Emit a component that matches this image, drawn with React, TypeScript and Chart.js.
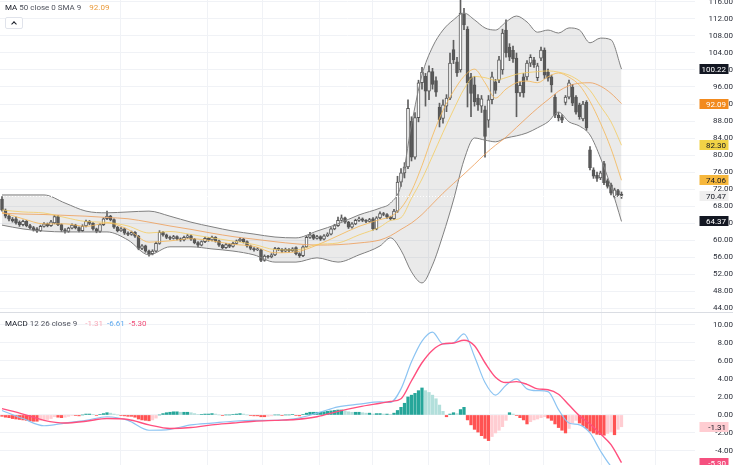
import React, { useEffect, useRef } from "react";
import { Chart, registerables } from "chart.js";

Chart.register(...registerables);

// ---------- price candles (one per bar) ----------
const opens = [
  69.6, 67.0, 65.6, 64.9, 65.0, 64.2, 63.6, 64.4, 63.4, 62.9,
  62.6, 62.2, 63.2, 63.8, 63.4, 64.0, 65.5, 63.6, 62.4, 62.0,
  62.8, 63.5, 62.9, 62.2, 63.3, 64.4, 63.9, 62.6, 62.0, 63.6,
  65.0, 65.6, 64.8, 63.0, 62.2, 62.6, 61.6, 61.3, 61.8, 60.9,
  58.0, 58.6, 57.4, 56.8, 57.4, 59.2, 61.8, 61.2, 60.6, 60.4,
  60.8, 60.3, 60.0, 60.6, 61.0, 60.2, 59.4, 58.8, 59.6, 60.4,
  60.0, 60.6, 59.8, 58.8, 58.2, 58.9, 58.5, 59.2, 59.8, 60.2,
  59.6, 58.6, 58.0, 57.7, 57.6, 55.2, 56.2, 56.0, 56.5, 58.0,
  57.8, 57.4, 57.8, 57.5, 58.2, 56.8, 56.3, 58.4, 60.6, 61.2,
  60.4, 60.8, 60.2, 61.0, 61.4, 62.6, 63.4, 64.6, 65.2, 64.2,
  63.0, 63.8, 64.6, 65.0, 64.6, 64.4, 65.0, 62.6, 65.2, 66.2,
  66.0, 65.4, 65.0, 66.8, 73.6, 75.8, 77.2, 88.0, 79.5, 88.8,
  97.0, 98.5, 95.0, 99.6, 97.5, 91.3, 88.6, 91.5, 93.4, 104.8,
  101.9, 100.0, 113.2, 109.6, 98.4, 96.5, 93.4, 91.5, 90.6, 88.2,
  93.0, 97.2, 97.6, 100.0, 109.4, 105.4, 104.6, 102.8, 94.6, 98.4,
  98.4, 101.6, 102.4, 98.2, 102.8, 104.7, 99.5, 98.4, 93.6, 89.4,
  89.0, 92.4, 93.6, 96.0, 93.6, 91.8, 88.5, 92.4, 81.2, 76.5,
  75.2, 74.6, 78.0, 74.0, 73.0, 70.2, 71.6, 70.8,
];
const closes = [
  67.0, 65.6, 64.9, 64.5, 64.0, 63.6, 64.4, 63.4, 62.9, 62.4,
  62.1, 63.2, 63.8, 63.4, 64.3, 65.5, 63.6, 62.4, 62.0, 62.8,
  63.5, 62.9, 62.2, 63.3, 64.4, 63.9, 62.6, 62.0, 63.6, 65.0,
  65.6, 64.8, 63.0, 62.2, 62.6, 61.6, 61.3, 61.8, 60.9, 58.0,
  58.6, 57.4, 56.8, 57.4, 59.2, 61.8, 61.2, 60.6, 60.4, 60.8,
  60.3, 60.0, 60.6, 61.0, 60.2, 59.4, 58.8, 59.6, 60.4, 60.0,
  60.6, 59.8, 58.8, 58.2, 58.9, 58.5, 59.2, 59.8, 60.2, 59.6,
  58.6, 58.0, 57.7, 57.9, 55.2, 56.2, 56.0, 56.5, 58.0, 57.8,
  57.4, 57.8, 57.5, 57.9, 56.8, 56.3, 58.4, 60.6, 61.2, 60.4,
  60.8, 60.2, 61.0, 61.4, 62.6, 63.4, 64.6, 65.2, 64.2, 63.0,
  63.8, 64.6, 65.0, 64.6, 64.4, 64.8, 62.6, 65.2, 66.2, 66.0,
  65.4, 65.0, 66.8, 73.6, 75.8, 77.2, 91.0, 79.5, 88.8, 97.0,
  99.5, 95.0, 99.6, 96.6, 94.8, 88.3, 91.8, 93.4, 101.6, 102.4,
  99.3, 113.4, 110.6, 97.0, 94.5, 92.5, 91.8, 93.2, 84.4, 93.0,
  98.4, 95.2, 102.4, 108.7, 104.0, 103.0, 102.6, 94.6, 96.4, 94.6,
  101.6, 103.0, 101.2, 101.0, 104.7, 98.8, 98.1, 96.5, 89.4, 88.7,
  88.2, 93.6, 97.0, 92.2, 90.1, 89.0, 92.0, 86.4, 77.0, 75.0,
  74.5, 75.8, 73.5, 72.6, 71.0, 71.8, 70.6, 70.47,
];
const highs = [
  70.2, 67.3, 66.0, 65.3, 65.4, 64.5, 64.7, 64.6, 63.7, 63.2,
  62.9, 63.5, 64.1, 64.0, 64.6, 65.8, 65.8, 63.8, 62.7, 63.0,
  63.8, 63.7, 63.1, 63.6, 64.7, 64.6, 64.1, 62.8, 63.8, 65.2,
  66.8, 65.8, 65.0, 63.2, 62.9, 62.8, 61.9, 62.1, 62.0, 61.1,
  58.9, 58.8, 57.6, 57.7, 59.5, 62.2, 62.0, 61.4, 60.9, 61.1,
  61.0, 60.5, 60.9, 61.3, 61.2, 60.4, 59.6, 59.8, 60.7, 60.6,
  60.9, 60.8, 60.0, 59.0, 59.2, 59.1, 59.5, 60.0, 60.5, 60.4,
  59.8, 58.8, 58.2, 58.2, 57.8, 56.5, 56.4, 56.8, 58.3, 58.2,
  58.0, 58.1, 58.0, 58.2, 58.4, 57.0, 58.6, 61.0, 61.8, 61.4,
  61.1, 61.0, 61.3, 61.7, 62.9, 63.7, 65.4, 65.9, 65.4, 64.4,
  64.1, 64.9, 65.4, 65.2, 64.8, 65.1, 65.3, 65.5, 66.6, 66.5,
  66.2, 65.6, 67.2, 75.0, 76.8, 78.2, 93.0, 89.0, 90.0, 97.6,
  100.6, 99.2, 101.0, 100.4, 98.4, 92.2, 93.0, 94.2, 104.0, 107.0,
  103.0, 116.5, 114.5, 110.2, 99.2, 98.5, 94.2, 94.0, 91.5, 94.0,
  99.5, 97.8, 103.2, 109.6, 111.8, 106.2, 105.6, 104.0, 97.2, 99.2,
  102.2, 103.6, 103.0, 101.6, 105.4, 105.2, 100.2, 98.8, 94.2, 90.0,
  89.5, 94.0, 97.6, 96.6, 94.0, 92.2, 92.6, 92.8, 82.0, 77.0,
  76.0, 76.2, 78.5, 74.4, 73.4, 72.2, 71.9, 71.3,
];
const lows = [
  66.8, 65.2, 64.5, 64.2, 63.7, 63.2, 63.3, 63.1, 62.6, 62.1,
  61.8, 62.0, 63.0, 63.1, 63.2, 63.8, 63.4, 62.0, 61.6, 61.8,
  62.6, 62.6, 61.9, 62.0, 63.1, 63.6, 62.3, 61.7, 61.8, 63.4,
  64.8, 64.5, 62.7, 61.9, 62.0, 61.3, 61.0, 61.1, 60.6, 57.7,
  57.7, 57.1, 56.2, 56.5, 57.2, 59.0, 60.9, 60.3, 60.1, 60.2,
  60.0, 59.7, 59.8, 60.4, 59.9, 59.1, 58.4, 58.6, 59.4, 59.7,
  59.8, 59.5, 58.5, 57.9, 58.0, 58.2, 58.3, 59.0, 59.6, 59.3,
  58.3, 57.7, 57.4, 57.5, 54.9, 55.0, 55.7, 55.8, 56.3, 57.5,
  57.1, 57.2, 57.2, 57.3, 56.5, 55.9, 56.1, 58.2, 60.4, 60.1,
  60.2, 59.9, 60.0, 60.8, 61.2, 62.4, 63.2, 64.4, 63.9, 62.7,
  62.8, 63.6, 64.4, 64.3, 64.1, 64.2, 62.3, 62.4, 65.0, 65.7,
  65.1, 64.7, 64.8, 66.5, 72.6, 74.6, 76.8, 78.6, 79.0, 87.8,
  95.5, 91.5, 93.0, 95.5, 93.8, 86.6, 87.5, 90.2, 93.0, 101.5,
  98.5, 99.5, 109.5, 91.3, 89.0, 91.5, 90.5, 90.0, 79.5, 86.5,
  92.0, 94.5, 97.0, 99.0, 103.0, 102.2, 101.8, 89.0, 93.8, 93.6,
  97.6, 100.8, 100.6, 97.5, 102.2, 98.0, 97.4, 94.8, 88.8, 88.0,
  87.6, 91.8, 93.2, 91.6, 89.6, 88.4, 88.0, 85.8, 76.5, 74.5,
  73.8, 74.2, 73.0, 72.2, 70.6, 69.9, 70.2, 69.8,
];

// ---------- indicator lines, read at these bar indices ----------
const sampleIdx = [
  0, 6, 12, 18, 24, 30, 36, 42, 48, 54, 60, 66, 72, 78, 84, 90, 96, 102, 108,
  111, 114, 117, 120, 123, 126, 129, 132, 135, 138, 141, 144, 147, 150, 153, 156,
  159, 162, 165, 168, 171, 174, 177,
];
const bbUpper = [
  70.6, 70.6, 70.6, 68.7, 66.8, 66.4, 66.6, 66.8, 65.6, 64.2, 63.1, 62.1, 61.4, 60.7, 60.5, 62.1, 63.8, 65.9, 67.5,
  68.7, 72.9, 87.1, 98.8, 105.4, 109.4, 111.8, 113.4, 111.8, 109.9, 109.4, 111.3, 112.7, 111.3, 108.9, 109.4,
  108.7, 109.9, 109.4, 106.4, 107.5, 107.1, 100.22,
];
const bbLower = [
  63.5, 62.6, 62.1, 61.9, 61.9, 61.9, 60.0, 56.5, 58.4, 58.4, 57.9, 57.4, 56.5, 54.8, 54.8, 55.8, 54.8, 56.5, 58.6,
  60.5, 57.6, 52.5, 49.9, 54.1, 61.2, 69.4, 78.8, 84.0, 83.5, 83.1, 84.0, 84.5, 85.2, 86.4, 87.8,
  90.1, 87.8, 86.8, 84.7, 79.3, 72.5, 64.37,
];
const bbBasis = [
  67.05, 66.6, 66.35, 65.3, 64.35, 64.15, 63.3, 61.65, 62.0, 61.3, 60.5, 59.75, 58.95, 57.75, 57.65, 58.95, 59.3, 61.2, 63.05,
  64.6, 65.25, 69.8, 74.35, 79.75, 85.3, 90.6, 95.5, 98.5, 98.2, 97.6, 98.2, 99.0, 99.4, 99.6, 99.8,
  99.5, 98.8, 97.4, 95.2, 91.5, 87.8, 82.3,
];
const fastMA = [
  66.5, 65.0, 63.8, 63.8, 63.2, 64.0, 62.5, 59.5, 59.8, 60.3, 59.8, 59.0, 58.5, 57.0, 57.2, 58.8, 61.0, 63.2, 64.8,
  65.5, 67.5, 71.5, 77.5, 84.5, 90.5, 95.0, 98.5, 100.2, 97.0, 93.4, 95.5, 97.0, 97.4, 97.0, 98.4,
  99.3, 98.3, 96.4, 92.6, 87.5, 81.5, 74.06,
];
const ma50 = [
  66.3, 66.1, 66.0, 65.8, 65.6, 65.3, 65.0, 64.2, 63.3, 62.5, 61.6, 60.8, 60.2, 59.6, 59.1, 58.8, 58.9, 59.3, 60.0,
  61.0, 62.5, 64.0, 66.0, 68.5, 71.0, 73.3, 75.5, 77.8, 80.2, 82.3, 84.2, 86.5, 88.8, 91.0, 93.0,
  95.0, 96.3, 96.9, 97.0, 96.2, 94.5, 92.09,
];
const macdLine = [
  0.5, -0.4, -1.2, -0.9, -0.6, -0.2, -0.6, -1.7, -1.6, -1.1, -0.9, -0.7, -0.6, -0.6, -0.4, 0.2, 0.9, 1.2, 1.45,
  1.4, 2.9, 5.9, 8.2, 9.2, 7.9, 8.0, 9.0, 6.5, 3.6, 2.2, 3.3, 4.0, 2.9, 2.7, 2.6,
  0.6, -0.9, -1.1, -2.0, -4.0, -5.7, -6.61,
];
const signalLine = [
  0.7, 0.1, -0.6, -0.9, -0.7, -0.4, -0.5, -1.1, -1.5, -1.4, -1.1, -0.9, -0.7, -0.6, -0.5, -0.2, 0.4, 0.9, 1.3,
  1.5, 1.8, 3.8, 5.8, 7.2, 7.9, 8.0, 8.3, 7.7, 5.8, 4.2, 3.6, 3.7, 3.4, 2.9, 2.8,
  2.3, 1.1, -0.1, -1.0, -2.1, -3.3, -5.3,
];
const histogram = [
  -0.15, -0.25, -0.3, -0.4, -0.45, -0.5, -0.55, -0.6, -0.65, -0.7,
  -0.7, -0.6, -0.55, -0.5, -0.4, -0.2, -0.25, -0.3, -0.25, -0.15,
  -0.05, -0.05, -0.1, 0.0, 0.1, 0.1, 0.05, -0.05, 0.05, 0.15,
  0.25, 0.2, 0.1, 0.0, -0.05, -0.1, -0.15, -0.15, -0.25, -0.45,
  -0.55, -0.6, -0.65, -0.55, -0.35, 0.0, 0.15, 0.25, 0.3, 0.35,
  0.35, 0.3, 0.3, 0.3, 0.25, 0.15, 0.05, 0.05, 0.1, 0.1,
  0.15, 0.1, 0.0, -0.05, 0.0, 0.0, 0.05, 0.1, 0.15, 0.1,
  0.0, -0.05, -0.1, -0.1, -0.2, -0.2, -0.15, -0.1, 0.0, 0.0,
  -0.05, 0.0, 0.0, 0.05, -0.05, -0.1, 0.05, 0.2, 0.3, 0.3,
  0.3, 0.3, 0.35, 0.4, 0.45, 0.5, 0.55, 0.55, 0.45, 0.35,
  0.3, 0.3, 0.3, 0.25, 0.2, 0.2, 0.1, 0.15, 0.15, 0.1,
  0.1, 0.05, 0.2, 0.5, 0.85, 1.3, 2.0, 2.2, 2.4, 2.7,
  3.0, 2.7, 2.5, 2.2, 1.8, 1.1, 0.4, -0.2, 0.1, 0.25,
  0.15, 0.6, 0.85, -0.55, -1.1, -1.6, -1.9, -2.3, -2.6, -2.85,
  -2.4, -2.0, -1.7, -1.3, -0.6, 0.25, 0.1, -0.05, -0.3, -0.55,
  -1.0, -0.75, -0.55, -0.45, -0.3, -0.2, -0.35, -0.6, -1.0, -1.4,
  -1.7, -2.0, -1.5, -0.9, -0.6, -0.9, -1.2, -1.5, -1.8, -2.0,
  -2.15, -2.2, -2.25, -2.05, -1.85, -2.2, -1.6, -1.31,
];

// ---------- axes ----------
const priceTicks = [44, 48, 52, 56, 60, 64, 68, 72, 76, 80, 84, 88, 92, 96, 100, 104, 108, 112, 116];
const macdTicks = [-4, -2, 0, 2, 4, 6, 8, 10];
const timeGrid = [16.6, 51.4, 66, 82.9, 98.6, 113.1, 130.9, 147.4, 162.3, 180, 193.7];

const FONT = "Roboto, 'Liberation Sans', Arial, sans-serif";
const FS = 8;
const X_MIN = -0.5714;
const X_MAX = 198.0;
const GRID = "#F0F2F6";
const last = (a: number[]) => a[a.length - 1];
const pts = (arr: number[]) => sampleIdx.map((x, k) => ({ x, y: arr[k] }));

const overlayPlugin = {
  id: "overlay",
  afterDatasetsDraw(chart: any, _a: any, opts: any) {
    if (opts.priceLine == null) return;
    const { ctx, chartArea } = chart;
    const py = Math.round(chart.scales.y.getPixelForValue(opts.priceLine)) + 0.5;
    ctx.save();
    ctx.strokeStyle = "rgba(255,255,255,0.95)";
    ctx.setLineDash([1, 2]);
    ctx.lineWidth = 1;
    ctx.beginPath();
    ctx.moveTo(chartArea.left, py);
    ctx.lineTo(chartArea.right, py);
    ctx.stroke();
    ctx.restore();
  },
  afterDraw(chart: any, _a: any, opts: any) {
    const { ctx } = chart;
    const ys = chart.scales.y;
    ctx.save();
    if (opts.topLine) {
      ctx.strokeStyle = "#DADDE3";
      ctx.lineWidth = 1;
      ctx.beginPath();
      ctx.moveTo(0, 0.5);
      ctx.lineTo(chart.width, 0.5);
      ctx.stroke();
    }
    for (const l of opts.labels || []) {
      const py = Math.round(ys.getPixelForValue(l.value));
      ctx.fillStyle = l.bg;
      ctx.fillRect(699.5, py - 5, 29, 10);
      ctx.fillStyle = l.fg;
      ctx.font = `${FS}px ${FONT}`;
      ctx.textAlign = "right";
      ctx.textBaseline = "middle";
      ctx.fillText(l.value.toFixed(2), 726, py + 0.5);
    }
    ctx.restore();
  },
};

function xScale() {
  return {
    type: "linear",
    min: X_MIN,
    max: X_MAX,
    offset: false,
    afterBuildTicks: (s: any) => {
      s.ticks = timeGrid.map((v) => ({ value: v }));
    },
    afterFit: (s: any) => {
      s.height = 0;
    },
    grid: { color: GRID, drawTicks: false },
    border: { display: false },
    ticks: { display: false },
  };
}

function yScale(min: number, max: number, ticks: number[]) {
  return {
    type: "linear",
    position: "right",
    min,
    max,
    afterBuildTicks: (s: any) => {
      s.ticks = ticks.map((v) => ({ value: v }));
    },
    afterFit: (s: any) => {
      s.width = 38;
      s.paddingTop = 0;
      s.paddingBottom = 0;
    },
    grid: { color: GRID, drawTicks: false },
    border: { display: false },
    ticks: {
      padding: 6,
      crossAlign: "far",
      autoSkip: false,
      color: "#2A2E39",
      font: { size: FS, family: FONT },
      callback: (v: any) => Number(v).toFixed(2),
    },
  };
}

export default function App() {
  const mainRef = useRef<HTMLCanvasElement>(null);
  const macdRef = useRef<HTMLCanvasElement>(null);

  useEffect(() => {
    const bodyColors = opens.map((o, i) => (closes[i] >= o ? "#FFFFFF" : "#5A5A5A"));
    const lineCommon = { pointRadius: 0, cubicInterpolationMode: "monotone", fill: false };

    const main = new Chart(mainRef.current as HTMLCanvasElement, {
      type: "bar",
      data: {
        datasets: [
          { ...lineCommon, type: "line", data: pts(bbLower), borderColor: "#808080", borderWidth: 1, order: 2 },
          {
            ...lineCommon,
            type: "line",
            data: pts(bbUpper),
            borderColor: "#808080",
            borderWidth: 1,
            fill: "-1",
            backgroundColor: "rgba(128,128,128,0.17)",
            order: 2,
          },
          { ...lineCommon, type: "line", data: pts(bbBasis), borderColor: "rgba(244,204,96,0.8)", borderWidth: 1, order: 1 },
          { ...lineCommon, type: "line", data: pts(fastMA), borderColor: "rgba(245,182,84,0.8)", borderWidth: 1, order: 1 },
          { ...lineCommon, type: "line", data: pts(ma50), borderColor: "rgba(238,156,86,0.8)", borderWidth: 1, order: 1 },
          {
            type: "bar",
            data: opens.map((_, i) => ({ x: i, y: [lows[i], highs[i]] })),
            backgroundColor: "#5E5E5E",
            barThickness: 1,
            grouped: false,
            order: 5,
          },
          {
            type: "bar",
            data: opens.map((o, i) => ({ x: i, y: [o, closes[i]] })),
            backgroundColor: bodyColors,
            borderColor: "#555555",
            borderWidth: 1,
            borderSkipped: false,
            barThickness: 3,
            minBarLength: 1,
            grouped: false,
            order: 4,
          },
        ],
      } as any,
      options: {
        responsive: false,
        maintainAspectRatio: false,
        animation: false,
        events: [],
        layout: { padding: 0 },
        scales: { x: xScale(), y: yScale(43.06, 116.47, priceTicks) } as any,
        plugins: {
          legend: { display: false },
          tooltip: { enabled: false },
          filler: { drawTime: "beforeDatasetsDraw" },
          overlay: {
            priceLine: last(closes),
            labels: [
              { value: last(bbUpper), bg: "#131722", fg: "#FFFFFF" },
              { value: last(ma50), bg: "#F28A1E", fg: "#FFFFFF" },
              { value: last(bbBasis), bg: "#F1D346", fg: "#131722" },
              { value: last(fastMA), bg: "#F6B73C", fg: "#131722" },
              { value: last(closes), bg: "#EFEFEF", fg: "#131722" },
              { value: last(bbLower), bg: "#131722", fg: "#FFFFFF" },
            ],
          },
        } as any,
      },
      plugins: [overlayPlugin],
    });

    const histColors = histogram.map((v, i) => {
      const prev = i > 0 ? histogram[i - 1] : 0;
      if (v >= 0) return v >= prev ? "#26A69A" : "#B2DFDB";
      return v <= prev ? "#FF5252" : "#FFCDD2";
    });

    const macd = new Chart(macdRef.current as HTMLCanvasElement, {
      type: "bar",
      data: {
        datasets: [
          {
            type: "bar",
            data: histogram.map((v, i) => ({ x: i, y: v })),
            backgroundColor: histColors,
            barThickness: 2.6,
            grouped: false,
            order: 3,
          },
          { ...lineCommon, type: "line", data: pts(macdLine), borderColor: "#8CC4F2", borderWidth: 1.2, order: 2 },
          { ...lineCommon, type: "line", data: pts(signalLine), borderColor: "#FF4F7E", borderWidth: 1.4, order: 1 },
        ],
      } as any,
      options: {
        responsive: false,
        maintainAspectRatio: false,
        animation: false,
        events: [],
        layout: { padding: 0 },
        scales: { x: xScale(), y: yScale(-5.56, 11.44, macdTicks) } as any,
        plugins: {
          legend: { display: false },
          tooltip: { enabled: false },
          overlay: {
            topLine: true,
            labels: [
              { value: last(macdLine), bg: "#64B5F6", fg: "#FFFFFF" },
              { value: last(histogram), bg: "#FFCDD2", fg: "#131722" },
              { value: last(signalLine), bg: "#F5507F", fg: "#FFFFFF" },
            ],
          },
        } as any,
      },
      plugins: [overlayPlugin],
    });

    return () => {
      main.destroy();
      macd.destroy();
    };
  }, []);

  const txt: React.CSSProperties = {
    position: "absolute",
    left: 5,
    fontFamily: FONT,
    fontSize: FS,
    lineHeight: "10px",
    whiteSpace: "nowrap",
    color: "#50535E",
  };

  return (
    <div style={{ position: "fixed", left: 0, top: 0, width: 733, height: 465, background: "#FFFFFF", overflow: "hidden" }}>
      <canvas ref={mainRef} width={733} height={312} style={{ position: "absolute", left: 0, top: 0, display: "block" }} />
      <canvas ref={macdRef} width={733} height={153} style={{ position: "absolute", left: 0, top: 312, display: "block" }} />
      <div style={{ ...txt, top: 2.5 }}>
        <span style={{ color: "#131722" }}>MA</span> 50 close 0 SMA 9
        <span style={{ color: "#EA9A3A", marginLeft: 8 }}>{last(ma50).toFixed(2)}</span>
      </div>
      <div
        style={{
          position: "absolute",
          left: 5,
          top: 17,
          width: 16,
          height: 10,
          border: "1px solid #E0E3EB",
          borderRadius: 2,
          background: "#FFFFFF",
        }}
      >
        <div
          style={{
            position: "absolute",
            left: 6,
            top: 4,
            width: 3,
            height: 3,
            borderTop: "1px solid #131722",
            borderLeft: "1px solid #131722",
            transform: "rotate(45deg)",
          }}
        />
      </div>
      <div style={{ ...txt, top: 319 }}>
        <span style={{ color: "#131722" }}>MACD</span> 12 26 close 9
        <span style={{ color: "#F7A9B8", marginLeft: 8 }}>{last(histogram).toFixed(2)}</span>
        <span style={{ color: "#5EA9EE", marginLeft: 4 }}>{last(macdLine).toFixed(2)}</span>
        <span style={{ color: "#F0507A", marginLeft: 4 }}>{last(signalLine).toFixed(2)}</span>
      </div>
    </div>
  );
}
